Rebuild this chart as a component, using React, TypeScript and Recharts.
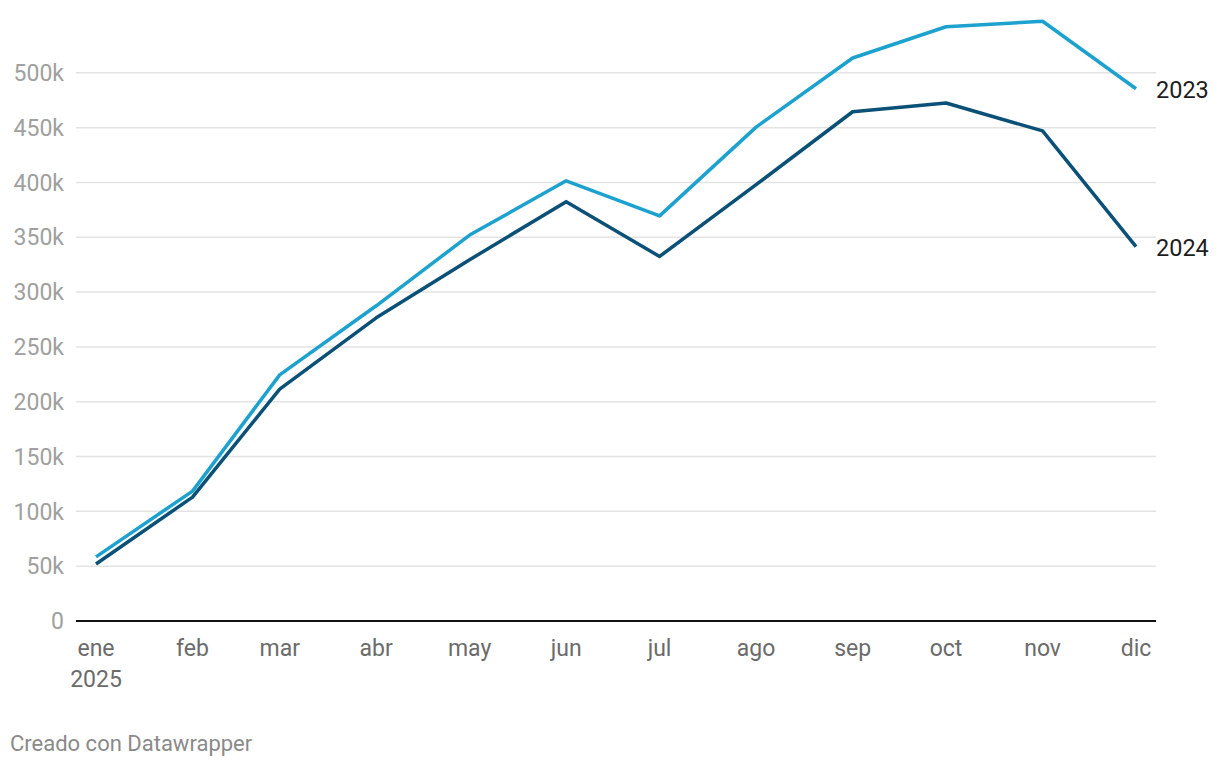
import React from 'react';
import { LineChart, Line, XAxis, YAxis, CartesianGrid, LabelList } from 'recharts';

// meses (fecha de inicio de cada mes, 2025)
const months = ['ene', 'feb', 'mar', 'abr', 'may', 'jun', 'jul', 'ago', 'sep', 'oct', 'nov', 'dic'];
const monthIndex = [0, 1, 2, 3, 4, 5, 6, 7, 8, 9, 10, 11];

// valores
const values2023 = [58500, 118500, 224500, 287500, 352000, 401500, 369500, 450500, 513500, 542000, 547000, 485500];
const values2024 = [52000, 113000, 211500, 276500, 329500, 382500, 332500, 398000, 464500, 472500, 447000, 341500];

const yTicks = [0, 50000, 100000, 150000, 200000, 250000, 300000, 350000, 400000, 450000, 500000];
const yMax = 550000;

const times = monthIndex.map((m) => Date.UTC(2025, m, 1));

const data = times.map((t, i) => ({
  t,
  y2023: values2023[i],
  y2024: values2024[i],
}));

const FONT = 'Roboto, "Noto Sans", sans-serif';

const fmtY = (v: number) => (v === 0 ? '0' : `${v / 1000}k`);

const XTick = (props: any) => {
  const { x, y, payload } = props;
  const i = times.indexOf(payload.value);
  return (
    <g>
      <text x={x} y={y} dy={33} textAnchor="middle" fill="#6b6b6b" fontSize={23} fontFamily={FONT}>
        {months[i]}
      </text>
      {i === 0 && (
        <text x={x} y={y} dy={64} textAnchor="middle" fill="#6b6b6b" fontSize={23} fontFamily={FONT}>
          2025
        </text>
      )}
    </g>
  );
};

const endLabel = (name: string) => (props: any) => {
  const { x, y, index } = props;
  if (index !== data.length - 1) return null;
  return (
    <text x={x + 20} y={y} dy="0.4em" fill="#1d1d1d" fontSize={23.5} fontFamily={FONT}>
      {name}
    </text>
  );
};

// líneas de cuadrícula sólo en los ticks (sin la línea del borde superior)
const gridLines = (props: any) => {
  const { offset } = props;
  if (!offset) return [];
  return yTicks
    .filter((v) => v > 0)
    .map((v) => offset.top + offset.height * (1 - v / yMax));
};

const App: React.FC = () => {
  return (
    <div style={{ position: 'absolute', left: 0, top: 0, width: 1220, height: 768, background: '#fff' }}>
      <LineChart width={1220} height={700} data={data} margin={{ top: 18, right: 64, bottom: 19, left: 0 }}>
        <CartesianGrid vertical={false} stroke="#e3e3e3" strokeWidth={1.5} horizontalCoordinatesGenerator={gridLines} />
        <XAxis
          dataKey="t"
          type="number"
          scale="time"
          domain={[times[0], times[times.length - 1]]}
          ticks={times}
          padding={{ left: 20, right: 20 }}
          height={60}
          tickLine={false}
          tickSize={0}
          tick={<XTick />}
          axisLine={{ stroke: '#111', strokeWidth: 2 }}
          interval={0}
        />
        <YAxis
          width={76}
          domain={[0, yMax]}
          ticks={yTicks}
          tickFormatter={fmtY}
          axisLine={false}
          tickLine={false}
          tickSize={0}
          tickMargin={12}
          tick={{ fill: '#a0a0a0', fontSize: 23, fontFamily: FONT }}
          interval={0}
        />
        <Line
          dataKey="y2023"
          stroke="#1da2cf"
          strokeWidth={3.5}
          dot={false}
          isAnimationActive={false}
          strokeLinejoin="round"
        >
          <LabelList dataKey="y2023" content={endLabel('2023')} />
        </Line>
        <Line
          dataKey="y2024"
          stroke="#0b5177"
          strokeWidth={3.5}
          dot={false}
          isAnimationActive={false}
          strokeLinejoin="round"
        >
          <LabelList dataKey="y2024" content={endLabel('2024')} />
        </Line>
      </LineChart>
      <div
        style={{
          position: 'absolute',
          left: 10,
          top: 731,
          fontFamily: FONT,
          fontSize: 22,
          color: '#8a8a8a',
        }}
      >
        Creado con Datawrapper
      </div>
    </div>
  );
};

export default App;
